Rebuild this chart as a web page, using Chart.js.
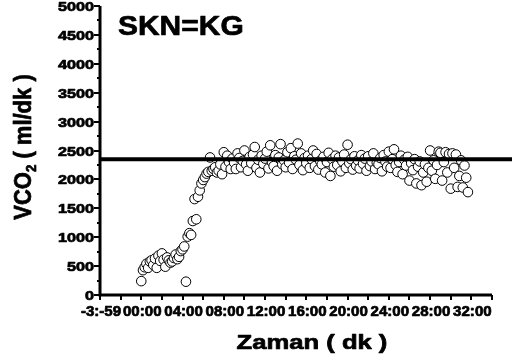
<!DOCTYPE html>
<html>
<head>
<meta charset="utf-8">
<title>VCO2 - Zaman</title>
<script src="https://cdn.jsdelivr.net/npm/chart.js@4/dist/chart.umd.min.js"></script>
<style>
  html, body { margin: 0; padding: 0; background: #fff; }
  canvas { display: block; }
</style>
</head>
<body>
<canvas id="vco2-chart" width="512" height="363"></canvas>
<script>
// --- Data: breath samples (seconds from start) and VCO2 in ml/dk ---
const sampleSeconds = [
     0,   10,   20,   30,   40,   50,
    60,   70,   80,   90,  100,  110,
   120,  130,  140,  150,  160,  170,
   180,  190,  200,  210,  220,  230,
   240,  250,  260,  270,  280,  290,
   300,  310,  320,  330,  340,  350,
   360,  370,  380,  390,  400,  410,
   420,  430,  440,  450,  460,  470,
   480,  490,  500,  510,  520,  530,
   540,  550,  560,  570,  580,  590,
   600,  610,  620,  630,  640,  650,
   660,  670,  680,  690,  700,  710,
   720,  730,  740,  750,  760,  770,
   780,  790,  800,  810,  820,  830,
   840,  850,  860,  870,  880,  890,
   900,  910,  920,  930,  940,  950,
   960,  970,  980,  990, 1000, 1010,
  1020, 1030, 1040, 1050, 1060, 1070,
  1080, 1090, 1100, 1110, 1120, 1130,
  1140, 1150, 1160, 1170, 1180, 1190,
  1200, 1210, 1220, 1230, 1240, 1250,
  1260, 1270, 1280, 1290, 1300, 1310,
  1320, 1330, 1340, 1350, 1360, 1370,
  1380, 1390, 1400, 1410, 1420, 1430,
  1440, 1450, 1460, 1470, 1480, 1490,
  1500, 1510, 1520, 1530, 1540, 1550,
  1560, 1570, 1580, 1590, 1600, 1610,
  1620, 1630, 1640, 1650, 1660, 1670,
  1680, 1690, 1700, 1710, 1720, 1730,
  1740, 1750, 1760, 1770, 1780, 1790,
  1800, 1810, 1820, 1830, 1840, 1850,
  1860, 1870, 1880, 1890, 1900
];
const vco2Values = [
   240,  430,  480,  540,  470,  580,
   600,  520,  630,  470,  680,  590,
   720,  610,  490,  650,  600,  560,
   580,  640,  700,  620,  660,  760,
   790,  840,  230, 1010, 1070, 1040,
  1280, 1660, 1310, 1700, 1810, 1930,
  1990, 2040, 2100, 2130, 2380, 2150,
  2180, 2210, 2120, 2150, 2260, 2090,
  2470, 2220, 2410, 2300, 2180, 2360,
  2290, 2180, 2450, 2370, 2210, 2320,
  2500, 2260, 2150, 2390, 2280, 2430,
  2560, 2200, 2340, 2120, 2410, 2270,
  2360, 2480, 2190, 2590, 2300, 2230,
  2420, 2150, 2380, 2610, 2260, 2330,
  2210, 2470, 2290, 2540, 2180, 2400,
  2340, 2620, 2250, 2450, 2160, 2370,
  2280, 2410, 2200, 2350, 2500, 2230,
  2440, 2170, 2320, 2260, 2390, 2120,
  2300, 2460, 2060, 2350, 2220, 2410,
  2250, 2380, 2140, 2310, 2430, 2200,
  2600, 2280, 2350, 2170, 2400, 2240,
  2330, 2190, 2420, 2270, 2360, 2150,
  2400, 2230, 2310, 2450, 2180, 2290,
  2260, 2370, 2140, 2420, 2310, 2220,
  2480, 2200, 2350, 2520, 2250, 2130,
  2300, 2410, 2090, 2340, 2240, 2390,
  1980, 2280, 2160, 2350, 1930, 2220,
  2310, 1900, 2120, 2260, 1960, 2200,
  2500, 2150, 2330, 2010, 2250, 2480,
  2460, 1980, 2300, 2470, 2120, 2440,
  1840, 2450, 2200, 2430, 1870, 2060,
  2330, 1860, 2240, 2030, 1780
];
const meanVCO2 = 2350;

// --- Axis ranges and tick labels ---
const xRange = [-240, 2040];          // seconds
const xTickSeconds = [-240, 0, 240, 480, 720, 960, 1200, 1440, 1680, 1920];
const xTickLabels = ['-3:-59', '00:00', '04:00', '08:00', '12:00', '16:00', '20:00', '24:00', '28:00', '32:00'];
const yRange = [0, 5000];
const yTickValues = [0, 500, 1000, 1500, 2000, 2500, 3000, 3500, 4000, 4500, 5000];
const yTickLabels = ['0', '500', '1000', '1500', '2000', '2500', '3000', '3500', '4000', '4500', '5000'];

const FONT = '"Liberation Sans", Arial, sans-serif';

// heavy text with a horizontal stretch
function drawWide(ctx, text, x, y, size, sx, align) {
  ctx.save();
  ctx.translate(x, y);
  ctx.scale(sx, 1);
  ctx.font = `bold ${size}px ${FONT}`;
  ctx.textAlign = align;
  ctx.textBaseline = 'alphabetic';
  ctx.fillStyle = '#000';
  ctx.strokeStyle = '#000';
  ctx.lineWidth = 0.7;
  ctx.lineJoin = 'round';
  ctx.fillText(text, 0, 0);
  ctx.strokeText(text, 0, 0);
  ctx.restore();
}

const axesPlugin = {
  id: 'axesAndLabels',
  afterDraw(chart) {
    const { ctx, chartArea: area, scales: { x, y } } = chart;
    ctx.save();
    ctx.strokeStyle = '#000';
    ctx.lineCap = 'butt';

    // axis lines
    ctx.lineWidth = 3;
    ctx.beginPath();
    ctx.moveTo(area.left, area.top);
    ctx.lineTo(area.left, area.bottom + 1.5);
    ctx.moveTo(area.left - 1.5, area.bottom);
    ctx.lineTo(area.right, area.bottom);
    ctx.stroke();

    // y ticks: long every 500, short every 250
    ctx.lineWidth = 2;
    ctx.beginPath();
    for (let v = yRange[0]; v <= yRange[1]; v += 250) {
      const py = Math.round(y.getPixelForValue(v));
      const len = v % 500 === 0 ? 6 : 3;
      ctx.moveTo(area.left - len, py);
      ctx.lineTo(area.left, py);
    }
    // x ticks every 2 minutes
    for (let s = xRange[0]; s <= xRange[1]; s += 120) {
      const px = Math.round(x.getPixelForValue(s));
      ctx.moveTo(px, area.bottom);
      ctx.lineTo(px, area.bottom + 5);
    }
    ctx.stroke();

    // tick labels
    yTickValues.forEach((v, i) => {
      drawWide(ctx, yTickLabels[i], area.left - 6, y.getPixelForValue(v) + 5, 13.5, 1.2, 'right');
    });
    xTickSeconds.forEach((s, i) => {
      drawWide(ctx, xTickLabels[i], x.getPixelForValue(s) + 1, area.bottom + 21, 14.5, 1.04, 'center');
    });

    // chart label and axis titles
    drawWide(ctx, 'SKN=KG', 118, 35, 28, 1.07, 'left');
    drawWide(ctx, 'Zaman ( dk )', 312, 349, 20, 1.28, 'center');

    // rotated y title with subscript
    ctx.save();
    ctx.translate(23, 147);
    ctx.rotate(-Math.PI / 2);
    ctx.scale(1.1, 1.2);
    ctx.fillStyle = '#000';
    ctx.strokeStyle = '#000';
    ctx.lineWidth = 0.6;
    ctx.lineJoin = 'round';
    ctx.textBaseline = 'alphabetic';
    ctx.textAlign = 'left';
    const big = `bold 20px ${FONT}`;
    const small = `bold 12px ${FONT}`;
    ctx.font = big;
    const w1 = ctx.measureText('VCO').width;
    const w3 = ctx.measureText(' ( ml/dk )').width;
    ctx.font = small;
    const w2 = ctx.measureText('2').width;
    const parts = [
      ['VCO', big, 7, w1],
      ['2', small, 11, w2],
      [' ( ml/dk )', big, 7, w3]
    ];
    let cx = -(w1 + w2 + w3) / 2;
    parts.forEach(([txt, font, dy, w]) => {
      ctx.font = font;
      ctx.fillText(txt, cx, dy);
      ctx.strokeText(txt, cx, dy);
      cx += w;
    });
    ctx.restore();

    ctx.restore();
  }
};

const points = sampleSeconds.map((s, i) => ({ x: s, y: vco2Values[i] }));

new Chart(document.getElementById('vco2-chart'), {
  type: 'scatter',
  data: {
    datasets: [
      {
        label: 'Ortalama',
        data: [{ x: xRange[0], y: meanVCO2 }, { x: 2400, y: meanVCO2 }],
        showLine: true,
        borderColor: '#000',
        borderWidth: 4,
        pointRadius: 0,
        clip: false,
        order: 0
      },
      {
        label: 'VCO2',
        data: points,
        pointRadius: 4.8,
        pointBorderWidth: 1,
        pointBorderColor: '#000',
        pointBackgroundColor: '#fff',
        order: 1
      }
    ]
  },
  options: {
    responsive: false,
    animation: false,
    devicePixelRatio: 1,
    layout: { padding: { left: 100, right: 20, top: 6, bottom: 68 } },
    plugins: {
      legend: { display: false },
      tooltip: { enabled: false }
    },
    scales: {
      x: { type: 'linear', display: false, min: xRange[0], max: xRange[1] },
      y: { type: 'linear', display: false, min: yRange[0], max: yRange[1] }
    }
  },
  plugins: [axesPlugin]
});
</script>
</body>
</html>
